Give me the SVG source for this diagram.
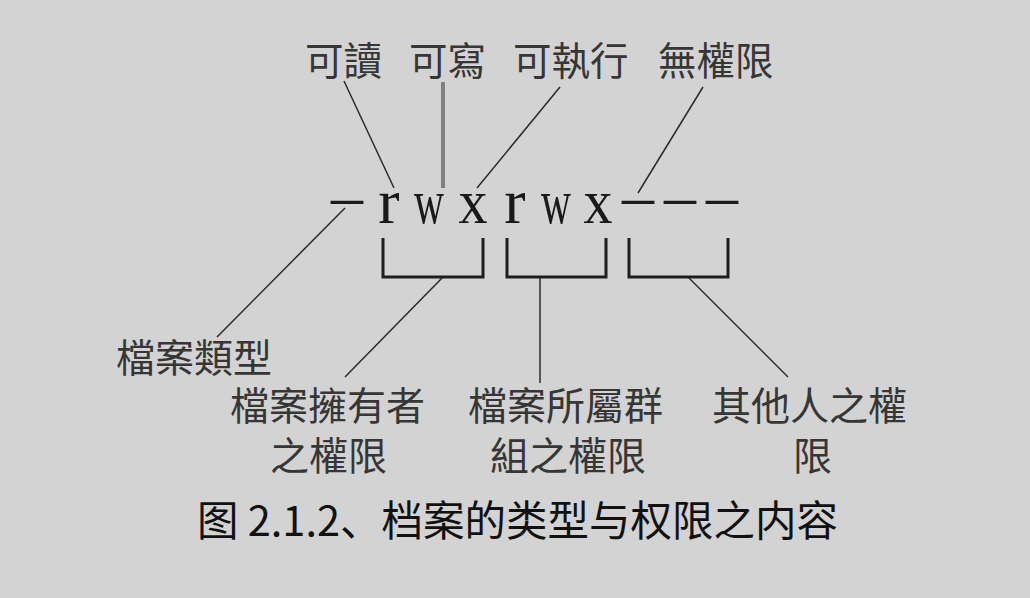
<svg xmlns="http://www.w3.org/2000/svg" width="1030" height="598" viewBox="0 0 1030 598">
<style>
.lbl{font-family:"Noto Sans CJK TC","Noto Sans CJK SC",sans-serif;fill:#363636;}
.top{font-size:38.5px;}
.bot{font-size:39px;}
.ch{font-family:"Liberation Serif",serif;font-size:64px;fill:#1a1a1a;text-anchor:middle;}
.ln{stroke:#2a2a2a;stroke-width:1.5;fill:none;}
.br{stroke:#1e1e1e;stroke-width:3;fill:none;}
.cap{font-family:"Noto Sans CJK SC",sans-serif;font-size:41.5px;fill:#111;}
</style>
<rect width="1030" height="598" fill="#d3d3d3"/>
<g id="connectors">
<line class="ln" x1="344" y1="81" x2="394" y2="188"/>
<line x1="443" y1="82" x2="443" y2="188" stroke="#808080" stroke-width="4"/>
<line class="ln" x1="560" y1="87" x2="477" y2="188"/>
<line class="ln" x1="703" y1="87" x2="638" y2="193"/>
<line class="ln" x1="345" y1="208" x2="217" y2="337"/>
<line class="ln" x1="443" y1="277" x2="345" y2="377"/>
<line class="ln" x1="540" y1="277" x2="540" y2="383"/>
<line class="ln" x1="688" y1="277" x2="788" y2="377"/>
</g>
<g id="brackets">
<path class="br" d="M383 238V277H483V238"/>
<path class="br" d="M507 238V277H606V238"/>
<path class="br" d="M629 238V277H728V238"/>
</g>
<g id="perm-string">
<text class="ch" x="347" y="217">–</text>
<text class="ch" x="389" y="223">r</text>
<text class="ch" x="429" y="223" textLength="30" lengthAdjust="spacingAndGlyphs">w</text>
<text class="ch" x="473" y="223" textLength="29" lengthAdjust="spacingAndGlyphs">x</text>
<text class="ch" x="515" y="223">r</text>
<text class="ch" x="556" y="223" textLength="30" lengthAdjust="spacingAndGlyphs">w</text>
<text class="ch" x="598" y="223" textLength="29" lengthAdjust="spacingAndGlyphs">x</text>
<text class="ch" x="638" y="217">–</text>
<text class="ch" x="680" y="217">–</text>
<text class="ch" x="722" y="217">–</text>
</g>
<g id="read"><text class="lbl top" x="305" y="75">可讀</text></g>
<g id="write"><text class="lbl top" x="409" y="75">可寫</text></g>
<g id="exec"><text class="lbl top" x="513" y="75">可執行</text></g>
<g id="none"><text class="lbl top" x="658" y="75">無權限</text></g>
<g id="filetype"><text class="lbl bot" x="116" y="372">檔案類型</text></g>
<g id="owner"><text class="lbl bot" x="230" y="420">檔案擁有者</text><text class="lbl bot" x="270" y="470">之權限</text></g>
<g id="group"><text class="lbl bot" x="468" y="420">檔案所屬群</text><text class="lbl bot" x="490" y="470">組之權限</text></g>
<g id="others"><text class="lbl bot" x="712" y="420">其他人之權</text><text class="lbl bot" x="793" y="470">限</text></g>
<text class="cap" x="197" y="536">图 2.1.2、档案的类型与权限之内容</text>
</svg>
